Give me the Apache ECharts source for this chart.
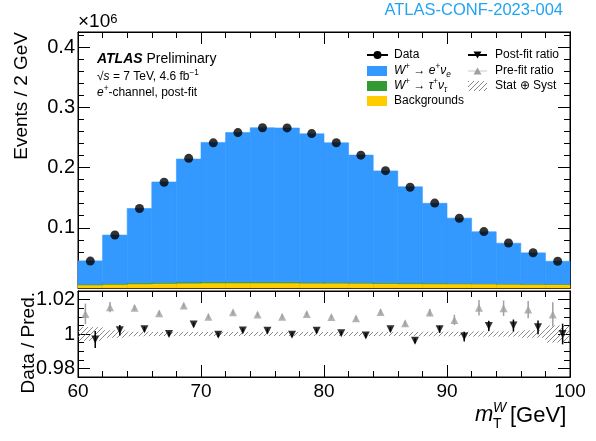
<!DOCTYPE html>
<html>
<head>
<meta charset="utf-8">
<script src="https://cdn.jsdelivr.net/npm/echarts@6/dist/echarts.min.js"></script>
<style>
  html, body { margin: 0; padding: 0; background: #fff; }
  #chart { width: 596px; height: 441px; }
</style>
</head>
<body>
<div id="chart"></div>
<script>
// W+ -> e+ nu transverse-mass distribution, e+ channel, post-fit, with data/prediction ratio.

// Bin edges in GeV (2 GeV bins)
const binEdges = [60, 62, 64, 66, 68, 70, 72, 74, 76, 78, 80, 82, 84, 86, 88, 90, 92, 94, 96, 98, 100];
const binCenters = [61, 63, 65, 67, 69, 71, 73, 75, 77, 79, 81, 83, 85, 87, 89, 91, 93, 95, 97, 99];

// Events per bin, in units of 10^6
const dataEvents = [0.0447, 0.0880, 0.1320, 0.1755, 0.2152, 0.2410, 0.2580, 0.2660, 0.2658, 0.2563,
                    0.2412, 0.2205, 0.1948, 0.1673, 0.1410, 0.1158, 0.0937, 0.0748, 0.0585, 0.0444];
const wenu = [0.0388, 0.0803, 0.1233, 0.1667, 0.2041, 0.2313, 0.2476, 0.2557, 0.2554, 0.2464,
              0.2315, 0.2114, 0.1856, 0.1596, 0.1325, 0.1082, 0.0858, 0.0672, 0.0514, 0.0378];
const wtaunu = [0.0012, 0.0015, 0.0017, 0.0018, 0.0019, 0.0019, 0.0019, 0.0018, 0.0017, 0.0016,
                0.0015, 0.0014, 0.0013, 0.0012, 0.0011, 0.0010, 0.0009, 0.0008, 0.0007, 0.0006];
const backgrounds = [0.0050, 0.0060, 0.0070, 0.0075, 0.0080, 0.0085, 0.0085, 0.0085, 0.0085, 0.0080,
                     0.0080, 0.0078, 0.0075, 0.0072, 0.0070, 0.0068, 0.0066, 0.0064, 0.0062, 0.0060];

// Data / prediction ratios
const postFitRatio = [0.9968, 1.0022, 1.0028, 1.0000, 1.0055, 0.9995, 1.0021, 1.0019, 0.9995, 1.0019,
                      1.0004, 0.9991, 1.0028, 0.9961, 1.0027, 0.9985, 1.0047, 1.0049, 1.0039, 1.0000];
const postFitErr = [0.0050, 0.0030, 0.0015, 0.0013, 0.0012, 0.0012, 0.0012, 0.0012, 0.0012, 0.0012,
                    0.0012, 0.0013, 0.0014, 0.0015, 0.0020, 0.0028, 0.0030, 0.0035, 0.0040, 0.0060];
const preFitRatio = [1.0117, 1.0156, 1.0152, 1.0120, 1.0166, 1.0101, 1.0126, 1.0113, 1.0101, 1.0117,
                     1.0099, 1.0091, 1.0128, 1.0062, 1.0125, 1.0082, 1.0152, 1.0150, 1.0142, 1.0114];
const preFitErr = [0.0060, 0.0030, 0.0015, 0.0013, 0.0012, 0.0012, 0.0012, 0.0012, 0.0012, 0.0012,
                   0.0012, 0.0013, 0.0014, 0.0015, 0.0020, 0.0030, 0.0045, 0.0045, 0.0050, 0.0070];
const statSystBand = [0.0040, 0.0022, 0.0013, 0.0012, 0.0012, 0.0012, 0.0012, 0.0012, 0.0012, 0.0012,
                      0.0012, 0.0012, 0.0012, 0.0012, 0.0013, 0.0013, 0.0015, 0.0015, 0.0022, 0.0050];

// Axis tick values
const xTickValues = [60, 70, 80, 90, 100];
const yMainTicks = [0.1, 0.2, 0.3, 0.4];
const yRatioTicks = [0.98, 1, 1.02];

const FONT = '"Liberation Sans", Arial, Helvetica, sans-serif';
const C_WENU = '#3399ff';
const C_WTAU = '#339933';
const C_BKG = '#ffcc00';
const C_PRE = '#a0a0a0';

const MAIN_MIN = 0, MAIN_MAX = 0.425;
const RATIO_MIN = 0.975, RATIO_MAX = 1.025;
const PRE_SHIFT = -0.4, POST_SHIFT = 0.4;

function hatchPattern() {
  const c = document.createElement('canvas');
  c.width = 5; c.height = 5;
  const g = c.getContext('2d');
  g.strokeStyle = '#6a6a6a';
  g.lineWidth = 0.8;
  g.beginPath();
  g.moveTo(0, 5); g.lineTo(5, 0);
  g.stroke();
  return { image: c, repeat: 'repeat' };
}
const HATCH = hatchPattern();

// minor tick positions
const yMainMinor = [];
for (let k = 1; k <= 21; k++) if (k % 5 !== 0) yMainMinor.push(Math.round(k * 2) / 100);
const yRatioMinor = [];
for (let k = 0; k <= 10; k++) {
  const v = Math.round((0.975 + k * 0.005) * 1000) / 1000;
  if (yRatioTicks.indexOf(v) < 0) yRatioMinor.push(v);
}

function xAxisCfg(grid, pos, showLabels) {
  return {
    type: 'value', gridIndex: grid, position: pos, min: 60, max: 100, interval: 10,
    axisLine: { show: true, onZero: false, lineStyle: { color: '#000', width: 1 } },
    axisTick: { show: true, inside: true, length: 12, lineStyle: { color: '#000', width: 1 } },
    minorTick: { show: true, splitNumber: 5, length: 6, lineStyle: { color: '#000', width: 1 } },
    axisLabel: { show: showLabels, margin: 5, fontSize: 19, fontFamily: FONT, color: '#000',
                 customValues: xTickValues },
    splitLine: { show: false }, minorSplitLine: { show: false }
  };
}
function yAxisCfg(grid, pos, min, max, ticks, len, labels) {
  return {
    type: 'value', gridIndex: grid, position: pos, min: min, max: max,
    axisLine: { show: true, onZero: false, lineStyle: { color: '#000', width: 1 } },
    axisTick: { show: true, inside: true, length: len, customValues: ticks, lineStyle: { color: '#000', width: 1 } },
    axisLabel: labels ? { show: true, margin: 3, fontSize: 20, fontFamily: FONT, color: '#000',
                          customValues: labels, formatter: v => String(v) } : { show: false },
    splitLine: { show: false }
  };
}

// histogram layers stacked from the bottom
function stackRows(layers) {
  const out = layers.map(() => []);
  for (let i = 0; i < binCenters.length; i++) {
    let base = 0;
    layers.forEach((arr, j) => {
      out[j].push([binEdges[i], binEdges[i + 1], base, base + arr[i]]);
      base += arr[i];
    });
  }
  return out;
}
const [bkgRows, tauRows, wenuRows] = stackRows([backgrounds, wtaunu, wenu]);

function histItem(color) {
  return function (params, api) {
    const a = api.coord([api.value(0), api.value(3)]);
    const b = api.coord([api.value(1), api.value(2)]);
    return {
      type: 'rect',
      shape: { x: a[0], y: a[1], width: b[0] - a[0], height: b[1] - a[1] },
      style: { fill: color, stroke: color, lineWidth: 0.6 }
    };
  };
}
function bandItem(params, api) {
  const a = api.coord([api.value(0), 1 + api.value(2)]);
  const b = api.coord([api.value(1), 1 - api.value(2)]);
  return {
    type: 'rect',
    shape: { x: a[0], y: a[1], width: b[0] - a[0], height: b[1] - a[1] },
    style: { fill: HATCH }
  };
}
function errItem(color, width) {
  return function (params, api) {
    const x = api.value(0), v = api.value(1), e = api.value(2);
    const a = api.coord([x, v + e]);
    const b = api.coord([x, v - e]);
    return {
      type: 'line',
      shape: { x1: a[0], y1: a[1], x2: b[0], y2: b[1] },
      style: { stroke: color, lineWidth: width }
    };
  };
}

const bandRows = binCenters.map((c, i) => [binEdges[i], binEdges[i + 1], statSystBand[i]]);
const preRows = binCenters.map((c, i) => [c + PRE_SHIFT, preFitRatio[i], preFitErr[i]]);
const postRows = binCenters.map((c, i) => [c + POST_SHIFT, postFitRatio[i], postFitErr[i]]);

// rich text fragments
const txt = (extra) => Object.assign({ fontFamily: FONT, fill: '#000' }, extra);
function legendRich(size) {
  return {
    n: txt({ fontSize: size, lineHeight: 16 }),
    i: txt({ fontSize: size, fontStyle: 'italic', lineHeight: 16 }),
    sup: txt({ fontSize: size * 0.68, lineHeight: 9, verticalAlign: 'top' }),
    sub: txt({ fontSize: size * 0.68, fontStyle: 'italic', lineHeight: 9, verticalAlign: 'bottom' })
  };
}

const L1 = 367, L1T = 394, L2 = 468, L2T = 495;
const legendRows = [55, 71, 86, 101];

const graphic = [
  // top-right tag
  { type: 'text', x: 563, y: 10, style: { text: 'ATLAS-CONF-2023-004', font: '16.5px ' + FONT, fill: '#22a5f0', align: 'right', verticalAlign: 'middle' } },
  // y-axis exponent
  { type: 'text', x: 78, y: 22, style: { text: '{n|×10}{sup|6}', align: 'left', verticalAlign: 'middle',
      rich: { n: txt({ fontSize: 19, lineHeight: 19 }), sup: txt({ fontSize: 13, lineHeight: 10, verticalAlign: 'top' }) } } },
  // axis titles
  { type: 'text', x: 22, y: 32, rotation: Math.PI / 2, style: { text: 'Events / 2 GeV', font: '19px ' + FONT, fill: '#000', align: 'right', verticalAlign: 'middle' } },
  { type: 'text', x: 29, y: 292, rotation: Math.PI / 2, style: { text: 'Data / Pred.', font: '19px ' + FONT, fill: '#000', align: 'right', verticalAlign: 'middle' } },
  { type: 'text', x: 475, y: 415, style: { text: 'm', font: 'italic 22px ' + FONT, fill: '#000', align: 'left', verticalAlign: 'middle' } },
  { type: 'text', x: 493, y: 424, style: { text: 'T', font: '14px ' + FONT, fill: '#000', align: 'left', verticalAlign: 'middle' } },
  { type: 'text', x: 493, y: 408, style: { text: 'W', font: 'italic 14px ' + FONT, fill: '#000', align: 'left', verticalAlign: 'middle' } },
  { type: 'text', x: 510, y: 416, style: { text: '[GeV]', font: '22px ' + FONT, fill: '#000', align: 'left', verticalAlign: 'middle' } },
  // ATLAS label block
  { type: 'text', x: 97, y: 59, style: { text: '{b|ATLAS}{n| Preliminary}', align: 'left', verticalAlign: 'middle',
      rich: { b: txt({ fontSize: 14, fontWeight: 'bold', fontStyle: 'italic' }), n: txt({ fontSize: 14 }) } } },
  { type: 'text', x: 97, y: 77, style: { text: '{n|√}{i|s}{n| = 7 TeV, 4.6 fb}{sup|−1}', align: 'left', verticalAlign: 'middle', rich: legendRich(12) } },
  { type: 'text', x: 97, y: 93, style: { text: '{i|e}{sup|+}{n|-channel, post-fit}', align: 'left', verticalAlign: 'middle', rich: legendRich(12) } },

  // legend column 1
  { type: 'line', shape: { x1: L1, y1: legendRows[0], x2: L1 + 21, y2: legendRows[0] }, style: { stroke: '#000', lineWidth: 2 } },
  { type: 'circle', shape: { cx: L1 + 10.5, cy: legendRows[0], r: 4 }, style: { fill: '#000' } },
  { type: 'text', x: L1T, y: legendRows[0], style: { text: 'Data', font: '12px ' + FONT, fill: '#000', verticalAlign: 'middle' } },
  { type: 'rect', shape: { x: L1, y: legendRows[1] - 5, width: 20, height: 10 }, style: { fill: C_WENU } },
  { type: 'text', x: L1T, y: legendRows[1], style: { text: '{i|W}{sup|+}{n| → }{i|e}{sup|+}{i|ν}{sub|e}', verticalAlign: 'middle', rich: legendRich(12) } },
  { type: 'rect', shape: { x: L1, y: legendRows[2] - 5, width: 20, height: 10 }, style: { fill: C_WTAU } },
  { type: 'text', x: L1T, y: legendRows[2], style: { text: '{i|W}{sup|+}{n| → }{i|τ}{sup|+}{i|ν}{sub|τ}', verticalAlign: 'middle', rich: legendRich(12) } },
  { type: 'rect', shape: { x: L1, y: legendRows[3] - 5, width: 20, height: 10 }, style: { fill: C_BKG } },
  { type: 'text', x: L1T, y: legendRows[3], style: { text: 'Backgrounds', font: '12px ' + FONT, fill: '#000', verticalAlign: 'middle' } },

  // legend column 2
  { type: 'line', shape: { x1: L2, y1: legendRows[0], x2: L2 + 19, y2: legendRows[0] }, style: { stroke: '#000', lineWidth: 2 } },
  { type: 'polygon', shape: { points: [[L2 + 5.5, legendRows[0] - 3.5], [L2 + 13.5, legendRows[0] - 3.5], [L2 + 9.5, legendRows[0] + 3.5]] }, style: { fill: '#000' } },
  { type: 'text', x: L2T, y: legendRows[0], style: { text: 'Post-fit ratio', font: '12px ' + FONT, fill: '#000', verticalAlign: 'middle' } },
  { type: 'line', shape: { x1: L2, y1: legendRows[1], x2: L2 + 19, y2: legendRows[1] }, style: { stroke: '#c8c8c8', lineWidth: 1 } },
  { type: 'polygon', shape: { points: [[L2 + 5.5, legendRows[1] + 3.5], [L2 + 13.5, legendRows[1] + 3.5], [L2 + 9.5, legendRows[1] - 3.5]] }, style: { fill: C_PRE } },
  { type: 'text', x: L2T, y: legendRows[1], style: { text: 'Pre-fit ratio', font: '12px ' + FONT, fill: '#000', verticalAlign: 'middle' } },
  { type: 'rect', shape: { x: L2, y: legendRows[2] - 5, width: 19, height: 10 }, style: { fill: HATCH } },
  { type: 'text', x: L2T, y: legendRows[2], style: { text: 'Stat ⊕ Syst', font: '12px ' + FONT, fill: '#000', verticalAlign: 'middle' } }
];

const option = {
  animation: false,
  backgroundColor: '#fff',
  grid: [
    { left: 78, top: 32, width: 492, height: 256, show: true, borderColor: '#000', borderWidth: 1, backgroundColor: 'transparent' },
    { left: 78, top: 291, width: 492, height: 86, show: true, borderColor: '#000', borderWidth: 1, backgroundColor: 'transparent' }
  ],
  xAxis: [
    xAxisCfg(0, 'bottom', false),
    xAxisCfg(0, 'top', false),
    xAxisCfg(1, 'bottom', true),
    xAxisCfg(1, 'top', false)
  ],
  yAxis: [
    yAxisCfg(0, 'left', MAIN_MIN, MAIN_MAX, yMainTicks, 12, yMainTicks),
    yAxisCfg(0, 'left', MAIN_MIN, MAIN_MAX, yMainMinor, 6, null),
    yAxisCfg(0, 'right', MAIN_MIN, MAIN_MAX, yMainTicks, 12, null),
    yAxisCfg(0, 'right', MAIN_MIN, MAIN_MAX, yMainMinor, 6, null),
    yAxisCfg(1, 'left', RATIO_MIN, RATIO_MAX, yRatioTicks, 12, yRatioTicks),
    yAxisCfg(1, 'left', RATIO_MIN, RATIO_MAX, yRatioMinor, 6, null),
    yAxisCfg(1, 'right', RATIO_MIN, RATIO_MAX, yRatioTicks, 12, null),
    yAxisCfg(1, 'right', RATIO_MIN, RATIO_MAX, yRatioMinor, 6, null)
  ],
  series: [
    { name: 'Backgrounds', type: 'custom', xAxisIndex: 0, yAxisIndex: 0, renderItem: histItem(C_BKG),
      encode: { x: [0, 1], y: [2, 3] }, data: bkgRows, z: 1 },
    { name: 'W+ -> tau nu', type: 'custom', xAxisIndex: 0, yAxisIndex: 0, renderItem: histItem(C_WTAU),
      encode: { x: [0, 1], y: [2, 3] }, data: tauRows, z: 1 },
    { name: 'W+ -> e nu', type: 'custom', xAxisIndex: 0, yAxisIndex: 0, renderItem: histItem(C_WENU),
      encode: { x: [0, 1], y: [2, 3] }, data: wenuRows, z: 1 },
    { name: 'Data', type: 'scatter', xAxisIndex: 0, yAxisIndex: 0, symbol: 'circle', symbolSize: 9,
      itemStyle: { color: '#000' }, data: binCenters.map((c, i) => [c, dataEvents[i]]), z: 5 },

    { name: 'Stat + Syst', type: 'custom', xAxisIndex: 2, yAxisIndex: 4, renderItem: bandItem,
      encode: { x: [0, 1], y: 2 }, data: bandRows, z: 1 },
    { name: 'Pre-fit error', type: 'custom', xAxisIndex: 2, yAxisIndex: 4, renderItem: errItem(C_PRE, 1.5),
      encode: { x: 0, y: 1 }, data: preRows, z: 3 },
    { name: 'Pre-fit ratio', type: 'scatter', xAxisIndex: 2, yAxisIndex: 4, symbol: 'triangle', symbolSize: 8,
      itemStyle: { color: C_PRE }, data: preRows.map(r => [r[0], r[1]]), z: 4 },
    { name: 'Post-fit error', type: 'custom', xAxisIndex: 2, yAxisIndex: 4, renderItem: errItem('#000', 1.5),
      encode: { x: 0, y: 1 }, data: postRows, z: 3 },
    { name: 'Post-fit ratio', type: 'scatter', xAxisIndex: 2, yAxisIndex: 4, symbol: 'triangle', symbolRotate: 180, symbolSize: 8,
      itemStyle: { color: '#000' }, data: postRows.map(r => [r[0], r[1]]), z: 5 }
  ],
  graphic: graphic
};

const chart = echarts.init(document.getElementById('chart'), null, { renderer: 'canvas' });
chart.setOption(option);
</script>
</body>
</html>
